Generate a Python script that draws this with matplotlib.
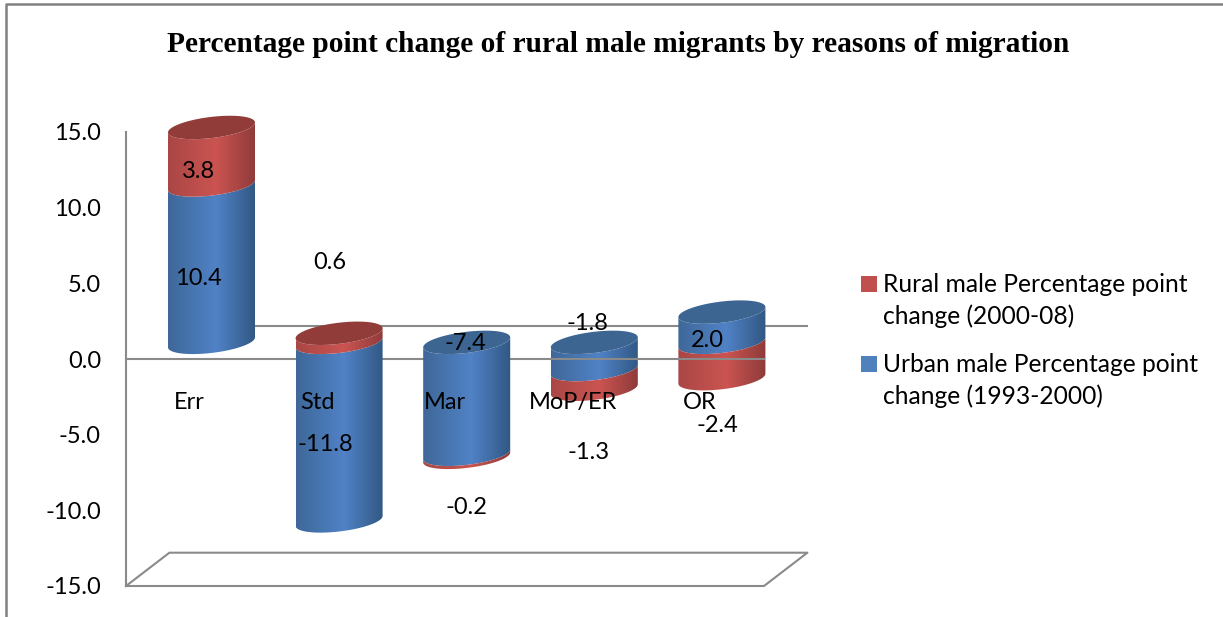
import numpy as np
import matplotlib
matplotlib.use('Agg')
import matplotlib.pyplot as plt
from matplotlib.colors import LinearSegmentedColormap
from matplotlib.lines import Line2D
from matplotlib.patches import Polygon, Rectangle

categories = ['Err', 'Std', 'Mar', 'MoP/ER', 'OR']
urban_change = [10.4, -11.8, -7.4, -1.8, 2.0]
rural_change = [3.8, 0.6, -0.2, -1.3, -2.4]
yticks = [15, 10, 5, 0, -5, -10, -15]

title = 'Percentage point change of rural male migrants by reasons of migration'
urban_name = ['Urban male Percentage point', 'change (1993-2000)']
rural_name = ['Rural male Percentage point', 'change (2000-08)']

# label offsets from the middle of each segment, in pixels (the source chart
# has them dragged around by hand)
urban_offsets = [(-13.5, -15), (-14, -13), (-1.5, 54.5), (-7, 32), (-14.5, -13)]
rural_offsets = [(-13.5, -15), (-9, 75.7), (-0.5, -52), (-6, -73.5), (-4.5, -64.5)]

GRAY = '#8a8a8a'
BLUE = ['#3f6899', '#5082c6', '#315883']
RED = ['#a94745', '#cb5451', '#8e3b3a']
BLUE_TOP = '#3d6592'
RED_TOP = '#923c3a'
W, H = 1223, 617

# 3D look: depth of the floor, half width and tilt of the cylinders
DEPTH_X = 0.34
DEPTH_Y = 2.2
RADIUS = 0.341
ELL_B = 0.70
TILT = 0.33

plt.rcParams['font.family'] = ['Lato', 'DejaVu Sans']
fig = plt.figure(figsize=(W / 100., H / 100.), dpi=100)
ax = fig.add_axes([126. / W, 1 - 586. / H, 638. / W, 454. / H])
ax.set_xlim(-0.5, 4.5)
ax.set_ylim(-15, 15)


def front_edge(cx, cy):
    # lower half of a tilted ellipse, left to right
    t = np.linspace(np.pi, 2 * np.pi, 60)
    return cx + RADIUS * np.cos(t), cy + ELL_B * np.sin(t) + TILT * np.cos(t)


def draw_side(cx, low, high, shades, z):
    xl, yl = front_edge(cx, low)
    xh, yh = front_edge(cx, high)
    pts = np.column_stack([np.r_[xl, xh[::-1]], np.r_[yl, yh[::-1]]])
    cmap = LinearSegmentedColormap.from_list('side', [(0, shades[0]), (0.55, shades[1]), (1, shades[2])])
    grad = np.linspace(0, 1, 128).reshape(1, -1)
    im = ax.imshow(grad, cmap=cmap, aspect='auto', zorder=z, interpolation='bilinear',
                   extent=(cx - RADIUS, cx + RADIUS, low - 2, high + 2))
    im.set_clip_box(fig.bbox)
    im.set_clip_path(Polygon(pts, closed=True, transform=ax.transData))


def draw_cap(cx, cy, color, z):
    t = np.linspace(0, 2 * np.pi, 120)
    pts = np.column_stack([cx + RADIUS * np.cos(t), cy + ELL_B * np.sin(t) + TILT * np.cos(t)])
    ax.add_patch(Polygon(pts, closed=True, facecolor=color, edgecolor='none', zorder=z, clip_on=False))


for i in range(len(categories)):
    u = urban_change[i]
    r = rural_change[i]
    cx = i + DEPTH_X / 2.
    base = DEPTH_Y / 2.
    z = 5 if i in (1, 2) else 3
    # stack the two series away from zero, urban first
    pos = 0.
    neg = 0.
    spans = []
    for val, shades, top in ((u, BLUE, BLUE_TOP), (r, RED, RED_TOP)):
        if val >= 0:
            spans.append((pos, pos + val, shades, top))
            pos += val
        else:
            spans.append((neg + val, neg, shades, top))
            neg += val
    for low, high, shades, top in spans:
        draw_side(cx, base + low, base + high, shades, z)
    top_span = max(spans, key=lambda s: s[1])
    draw_cap(cx, base + top_span[1], top_span[3], z)
    # labels sit relative to the segment they belong to
    for (low, high, shades, top), off, val in zip(spans, (urban_offsets[i], rural_offsets[i]), (u, r)):
        ax.annotate('%.1f' % val, xy=(cx, base + (low + high) / 2.), xytext=off,
                    textcoords='offset pixels', ha='center', va='center',
                    fontsize=17, color='black', zorder=10, annotation_clip=False)
    ax.text(i, -2.85, categories[i], ha='center', va='center', fontsize=17, color='black', zorder=10)

# zero lines and floor
ax.plot([-0.5, 4.5], [0, 0], color=GRAY, lw=1.5, zorder=4, clip_on=False)
ax.plot([-0.5 + DEPTH_X, 4.5 + DEPTH_X], [DEPTH_Y, DEPTH_Y], color=GRAY, lw=1.5, zorder=2, clip_on=False)
ax.plot([-0.5, 4.5, 4.5 + DEPTH_X, -0.5 + DEPTH_X, -0.5],
        [-15, -15, -15 + DEPTH_Y, -15 + DEPTH_Y, -15], color=GRAY, lw=1.5, zorder=2, clip_on=False)

ax.set_xticks([])
ax.set_yticks(yticks)
ax.set_yticklabels(['%.1f' % v for v in yticks], fontsize=17)
ax.tick_params(axis='y', length=0, pad=18)
ax.patch.set_visible(False)
for side in ('top', 'right', 'bottom'):
    ax.spines[side].set_visible(False)
ax.spines['left'].set_color(GRAY)
ax.spines['left'].set_linewidth(1.5)

fig.text(618. / W, 1 - 44. / H, title, family='Liberation Serif', fontweight='bold',
         fontsize=21.2, ha='center', va='center')

# chart area border, cut by the page on the right and at the bottom
fig.add_artist(Line2D([6. / W, 6. / W, 1], [0, 1 - 4. / H, 1 - 4. / H], color='#808080', lw=1.8))

# legend by hand: the swatch lines up with the first of two text lines
for name, color, ypx in ((rural_name, '#c0504d', 284.), (urban_name, '#4f81bd', 364.)):
    fig.add_artist(Rectangle((861. / W, 1 - (ypx + 8) / H), 16. / W, 16. / H,
                             transform=fig.transFigure, facecolor=color, edgecolor='none'))
    fig.text(883. / W, 1 - ypx / H, name[0], fontsize=17.7, va='center')
    fig.text(883. / W, 1 - (ypx + 32) / H, name[1], fontsize=17.7, va='center')

fig.savefig('out.png', dpi=100)
